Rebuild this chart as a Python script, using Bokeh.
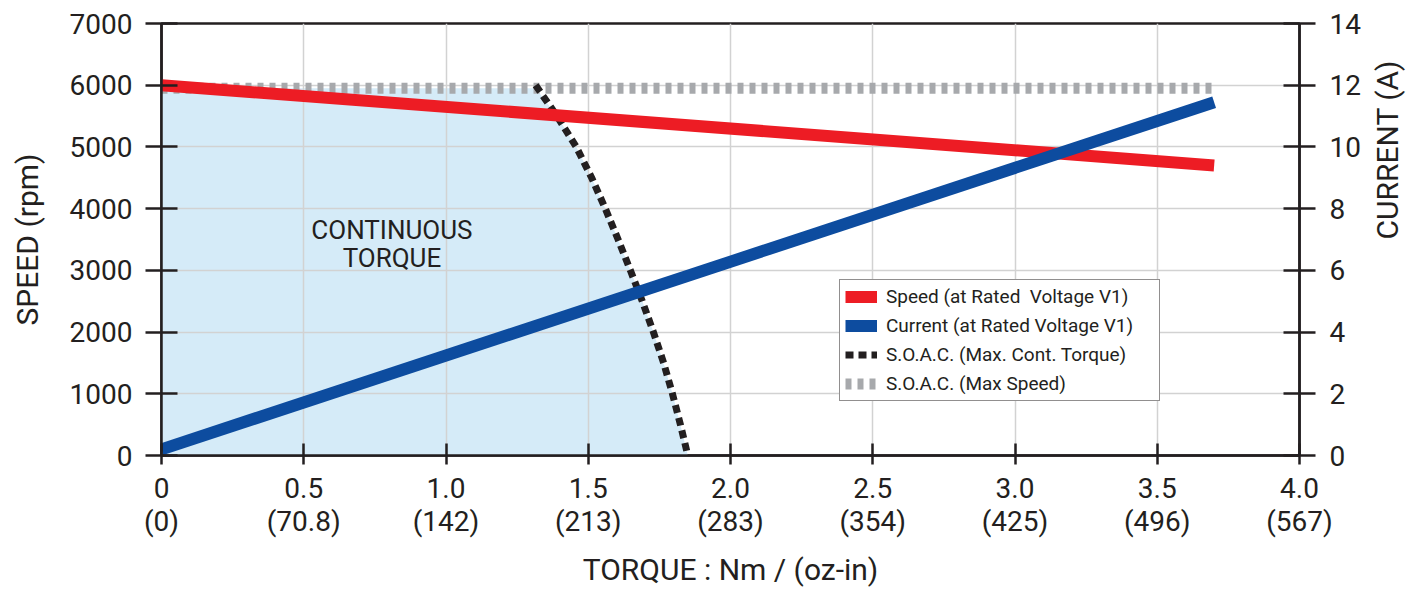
from bokeh.plotting import figure
from bokeh.models import Range1d, LinearAxis, FixedTicker, Legend, LegendItem, Label
from bokeh.embed import file_html
from bokeh.resources import INLINE
import math

# ---- data ----
torque_line = [0.0, 3.70]
speed_vals = [6000, 4700]
current_vals = [0.2, 11.45]

soac_torque = [1.315, 1.390, 1.458, 1.512, 1.560, 1.605, 1.648, 1.690, 1.729, 1.765, 1.796, 1.824, 1.850]
soac_speed = [6000, 5500, 5000, 4500, 4000, 3500, 3000, 2500, 2000, 1500, 1000, 500, 0]

max_speed_torque = [0.0, 3.70]
max_speed_vals = [5950, 5950]

x_ticks = [0, 0.5, 1.0, 1.5, 2.0, 2.5, 3.0, 3.5, 4.0]
x_tick_labels = ["0\n(0)", "0.5\n(70.8)", "1.0\n(142)", "1.5\n(213)", "2.0\n(283)",
                 "2.5\n(354)", "3.0\n(425)", "3.5\n(496)", "4.0\n(567)"]
speed_ticks = [0, 1000, 2000, 3000, 4000, 5000, 6000, 7000]
current_ticks = [0, 2, 4, 6, 8, 10, 12, 14]

INK = "#231f20"
FONT = "Roboto"

p = figure(width=1425, height=590, output_backend="svg", toolbar_location=None,
           x_range=Range1d(0, 4.0), y_range=Range1d(0, 7000),
           min_border_left=161, min_border_right=126, min_border_top=23, min_border_bottom=134)
p.extra_y_ranges = {"current": Range1d(0, 14)}

p.outline_line_color = INK
p.outline_line_width = 2.5
p.background_fill_color = "white"
p.border_fill_color = "white"

# continuous torque region
fill_x = [0.0, 0.0] + soac_torque
fill_y = [0, max_speed_vals[0]] + [min(s, max_speed_vals[0]) for s in soac_speed]
p.patch(fill_x, fill_y, fill_color="#d5ebf8", line_color=None, level="image")

r_gray = p.line(max_speed_torque, max_speed_vals, line_color="#a7a9ac", line_width=11, line_dash="6 6")
r_black = p.line(soac_torque, soac_speed, line_color=INK, line_width=7, line_dash="8 5")
r_red = p.line(torque_line, speed_vals, line_color="#ed1c24", line_width=12)
r_blue = p.line(torque_line, current_vals, line_color="#0d4c9f", line_width=12, y_range_name="current")

# axes
xa = p.xaxis[0]
xa.ticker = FixedTicker(ticks=x_ticks)
xa.major_label_overrides = {t: l for t, l in zip(x_ticks, x_tick_labels)}
xa.axis_label = "TORQUE : Nm / (oz-in)"
xa.major_tick_in = 12
xa.major_tick_out = 9
xa.major_label_standoff = 7
xa.axis_label_standoff = 11

ya = p.yaxis[0]
ya.ticker = FixedTicker(ticks=speed_ticks)
ya.axis_label = "SPEED (rpm)"
ya.major_tick_in = 16
ya.major_tick_out = 16
ya.major_label_standoff = 13
ya.axis_label_standoff = 22

ra = LinearAxis(y_range_name="current", ticker=FixedTicker(ticks=current_ticks), axis_label="CURRENT (A)")
ra.major_tick_in = 16
ra.major_tick_out = 16
ra.major_label_standoff = 14
ra.axis_label_standoff = 24
ra.axis_label_orientation = math.pi / 2
p.add_layout(ra, "right")

for ax in [xa, ya, ra]:
    ax.minor_tick_line_color = None
    ax.axis_line_color = INK
    ax.axis_line_width = 2.5
    ax.major_tick_line_color = INK
    ax.major_tick_line_width = 2.5
    ax.major_label_text_font = FONT
    ax.major_label_text_font_size = "28px"
    ax.major_label_text_color = INK
    ax.axis_label_text_font = FONT
    ax.axis_label_text_font_size = "30px"
    ax.axis_label_text_font_style = "normal"
    ax.axis_label_text_color = INK
xa.major_label_text_line_height = 1.03
xa.axis_label_text_line_height = 1.0

p.xgrid.ticker = FixedTicker(ticks=x_ticks)
p.ygrid.ticker = FixedTicker(ticks=speed_ticks)
for g in [p.xgrid[0], p.ygrid[0]]:
    g.grid_line_color = "#d2d2d2"
    g.grid_line_width = 1.5

p.add_layout(Label(x=0.81, y=3430, text="CONTINUOUS\nTORQUE", text_align="center",
                   text_baseline="middle", text_font=FONT, text_font_size="26px",
                   text_color=INK, text_line_height=0.92))

legend = Legend(items=[
    LegendItem(label="Speed (at Rated  Voltage V1)", renderers=[r_red]),
    LegendItem(label="Current (at Rated Voltage V1)", renderers=[r_blue]),
    LegendItem(label="S.O.A.C. (Max. Cont. Torque)", renderers=[r_black]),
    LegendItem(label="S.O.A.C. (Max Speed)", renderers=[r_gray]),
], location=(678, 54))
legend.border_line_color = INK
legend.border_line_width = 1.5
legend.background_fill_alpha = 1.0
legend.label_text_font = FONT
legend.label_text_font_size = "19px"
legend.label_text_color = INK
legend.glyph_width = 32
legend.glyph_height = 21
legend.label_height = 21
legend.label_width = 268
legend.label_standoff = 9
legend.spacing = 6
legend.padding = 5
legend.margin = 0
p.add_layout(legend)

open("out.html", "w").write(file_html(p, INLINE))
